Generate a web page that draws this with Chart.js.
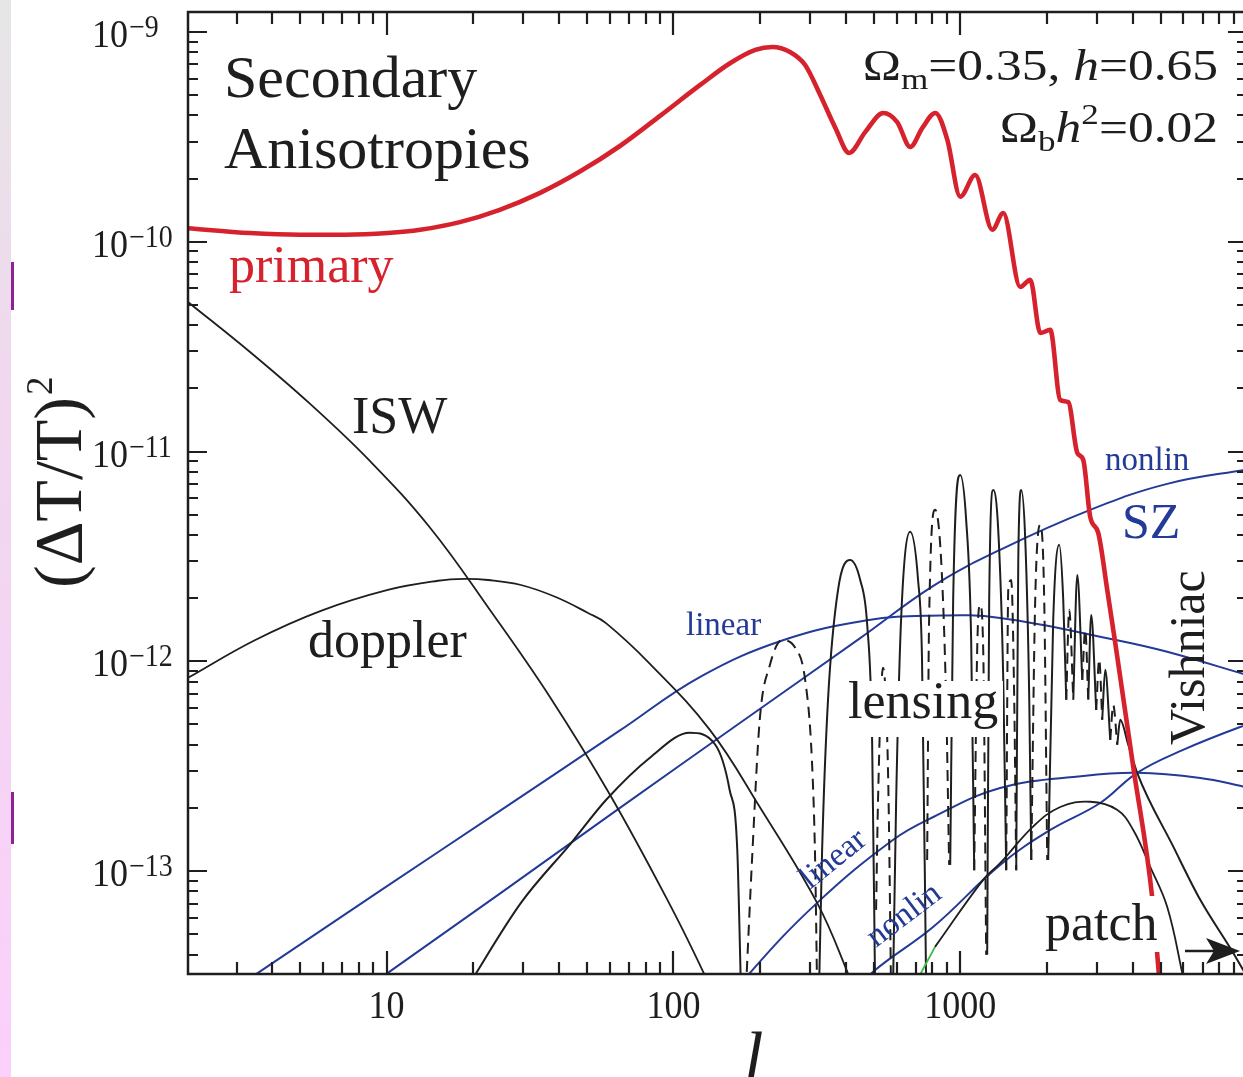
<!DOCTYPE html>
<html>
<head>
<meta charset="utf-8">
<script src="https://cdn.jsdelivr.net/npm/chart.js@4.4.1/dist/chart.umd.min.js"></script>
<style>
  html, body { margin: 0; padding: 0; background: #fff; overflow: hidden; }
  #wrap { position: relative; width: 1250px; height: 1077px; }
  canvas { position: absolute; left: 0; top: 0; }
  #strip { position: absolute; left: 0; top: 0; width: 11px; height: 1077px;
           background: linear-gradient(#e6e6e6, #f0d8ee 35%, #fbd0fb); }
  .bar { position: absolute; left: 11px; width: 3px; background: #8b2490; }
</style>
</head>
<body>
<div id="wrap">
  <canvas id="chart" width="1250" height="1077"></canvas>
  <div id="strip"></div>
  <div class="bar" style="top:262px;height:48px"></div>
  <div class="bar" style="top:792px;height:52px"></div>
</div>
<script>
// multipole l and (dT/T)^2
const primaryL = [2.03, 3.34, 4.98, 7.16, 10.1, 13.1, 18.0, 24.8, 34.3, 47.2, 65.1, 89.8, 124, 158, 193, 221, 255, 288, 325, 367, 410, 467, 539, 603, 670, 738, 819, 902, 1000, 1128, 1294, 1413, 1619, 1755, 1902, 2061, 2233, 2381, 2561, 2686, 2840, 3029, 3256, 3473, 4012, 4670, 4980];
const primaryV = [1.16e-10, 1.10e-10, 1.08e-10, 1.08e-10, 1.10e-10, 1.14e-10, 1.24e-10, 1.42e-10, 1.71e-10, 2.16e-10, 2.86e-10, 3.98e-10, 5.59e-10, 7.11e-10, 8.21e-10, 8.48e-10, 8.03e-10, 6.96e-10, 5.01e-10, 3.49e-10, 2.65e-10, 3.34e-10, 4.11e-10, 3.72e-10, 2.83e-10, 3.49e-10, 4.11e-10, 3.06e-10, 1.64e-10, 2.08e-10, 1.14e-10, 1.37e-10, 6.09e-11, 6.58e-11, 3.67e-11, 3.80e-11, 1.76e-11, 1.72e-11, 9.85e-12, 9.12e-12, 4.88e-12, 4.09e-12, 2.19e-12, 1.22e-12, 3.14e-13, 7.53e-14, 2.72e-14];

const iswL = [2.03, 3.34, 5.40, 8.74, 14.2, 22.9, 37.1, 60.1, 97.3, 127, 151];
const iswV = [5.16e-11, 2.98e-11, 1.69e-11, 9.02e-12, 4.32e-12, 1.76e-12, 6.76e-13, 2.31e-13, 6.90e-14, 3.31e-14, 1.95e-14];

const dopplerL = [2.03, 3.47, 5.90, 10.1, 15.1, 18.7, 22.6, 29.4, 38.7, 50.4, 58.2, 82.8, 134, 200, 317, 404, 430];
const dopplerV = [8.34e-13, 1.26e-12, 1.74e-12, 2.19e-12, 2.42e-12, 2.47e-12, 2.44e-12, 2.31e-12, 2.03e-12, 1.70e-12, 1.52e-12, 9.73e-13, 4.71e-13, 2.02e-13, 7.05e-14, 3.31e-14, 2.57e-14];

// lensing: positive lobes (solid) and negative lobes (dashed), null = break
const lensPosL = [18.9, 29.4, 44.0, 58.2, 82.8, 114, 140, 157, 167, 172, 172,
  322, 330, 346, 375, 413, 448, 474, 493, 505, 505,
  583, 598, 622, 669, 713, 736, 761, 761,
  923, 945, 1000, 1049, 1092, 1119, 1119,
  1242, 1262, 1304, 1357, 1413, 1447, 1447,
  1568, 1594, 1633, 1686, 1741, 1769, 1769,
  2027, 2110, 2215, 2287, 2343, 2343,
  2479, 2560, 2665, 2665,
  2796, 2863, 2980, 2980,
  3127, 3204, 3336, 3336,
  3528, 3614, 3855, 4140, 5544, 6871, 8955, 10250];
const lensPosV = [2.72e-14, 7.05e-14, 1.36e-13, 2.18e-13, 3.47e-13, 4.56e-13, 4.00e-13, 2.44e-13, 1.26e-13, 2.72e-14, null,
  2.72e-14, 1.26e-13, 6.55e-13, 2.19e-12, 3.04e-12, 2.44e-12, 1.49e-12, 4.22e-13, 2.72e-14, null,
  2.72e-14, 2.18e-13, 1.57e-12, 4.14e-12, 2.44e-12, 1.02e-12, 2.72e-14, null,
  1.07e-13, 1.96e-12, 7.73e-12, 4.72e-12, 1.26e-12, 1.01e-13, null,
  3.99e-14, 1.96e-12, 6.56e-12, 4.23e-12, 8.15e-13, 1.01e-13, null,
  1.01e-13, 3.04e-12, 6.56e-12, 3.79e-12, 6.55e-13, 1.13e-13, null,
  1.13e-13, 1.57e-12, 3.59e-12, 1.96e-12, 6.55e-13, null,
  6.55e-13, 2.58e-12, 8.15e-13, null,
  6.55e-13, 1.66e-12, 5.86e-13, null,
  5.26e-13, 9.10e-13, 4.22e-13, null,
  4.00e-13, 5.26e-13, 4.00e-13, 2.94e-13, 1.30e-13, 7.29e-14, 4.07e-14, 2.96e-14];

const lensNegL = [179, 188, 200, 217, 239, 266, 288, 304, 312, 317, 317,
  509, 517, 538, 561, 574, 574,
  767, 779, 818, 858, 893, 915, 915,
  1119, 1146, 1174, 1203, 1232, 1232,
  1447, 1471, 1506, 1543, 1568, 1568,
  1769, 1826, 1901, 1963, 2011, 2011,
  2343, 2400, 2479, 2479,
  2665, 2729, 2796, 2796,
  2980, 3053, 3127, 3127,
  3336, 3417, 3528];
const lensNegV = [2.72e-14, 1.13e-13, 5.26e-13, 9.61e-13, 1.26e-12, 1.16e-12, 8.15e-13, 3.39e-13, 1.13e-13, 2.72e-14, null,
  6.53e-14, 2.18e-13, 9.31e-13, 2.72e-13, 2.72e-14, null,
  1.13e-13, 1.57e-12, 5.27e-12, 3.04e-12, 6.55e-13, 1.07e-13, null,
  1.01e-13, 1.13e-12, 1.86e-12, 1.13e-12, 3.99e-14, null,
  1.01e-13, 2.19e-12, 2.44e-12, 6.55e-13, 1.01e-13, null,
  1.13e-13, 1.96e-12, 4.47e-12, 1.96e-12, 1.13e-13, null,
  6.55e-13, 1.76e-12, 6.55e-13, null,
  8.15e-13, 1.41e-12, 6.55e-13, null,
  5.86e-13, 1.02e-12, 5.26e-13, null,
  4.22e-13, 6.19e-13, 4.00e-13];

const szLinL = [3.34, 3.56, 9.48, 24.9, 65.1, 124, 241, 474, 785, 1378, 3524, 5268, 10250];
const szLinV = [3.10e-14, 3.27e-14, 8.04e-14, 1.94e-13, 4.68e-13, 8.43e-13, 1.26e-12, 1.57e-12, 1.65e-12, 1.61e-12, 1.26e-12, 1.11e-12, 8.52e-13];

const szNonL = [9.48, 10.1, 24.9, 65.1, 171, 448, 806, 1378, 2840, 5268, 10250];
const szNonV = [3.06e-14, 3.27e-14, 7.83e-14, 2.00e-13, 5.09e-13, 1.29e-12, 2.29e-12, 3.40e-12, 5.27e-12, 7.01e-12, 8.26e-12];

const vishLinL = [178, 185, 317, 584, 806, 1378, 2686, 4140, 6871, 9460, 10250];
const vishLinV = [2.87e-14, 3.27e-14, 7.05e-14, 1.41e-13, 1.81e-13, 2.49e-13, 2.84e-13, 2.94e-13, 2.78e-13, 2.55e-13, 2.47e-13];

const vishNonL = [466, 497, 806, 1378, 2061, 3076, 4140, 5985, 9460, 10250];
const vishNonV = [2.87e-14, 3.31e-14, 5.42e-14, 1.07e-13, 1.57e-13, 2.11e-13, 2.94e-13, 3.78e-13, 4.86e-13, 4.97e-13];

const patchL = [817, 1202, 1378, 1795, 2233, 2840, 3524, 4012, 4594, 5268, 5945, 6140];
const patchV = [4.35e-14, 9.08e-14, 1.09e-13, 1.63e-13, 2.02e-13, 2.14e-13, 1.96e-13, 1.57e-13, 1.05e-13, 6.75e-14, 3.27e-14, 2.57e-14];
const patchLowL = [679, 817];
const patchLowV = [2.72e-14, 4.35e-14];

const xTickLabels = ['10', '100', '1000'];
const yTickExps = [-9, -10, -11, -12, -13];

const SERIF = '"Liberation Serif", "DejaVu Serif", serif';
const RED = '#d6222c';
const BLUE = '#233a97';
const INK = '#1e1e1e';

function pts(ls, vs) {
  return ls.map((l, i) => ({ x: l, y: vs[i] }));
}

// smooth = plain bezier with tension, otherwise monotone cubic
function line(data, color, width, dash, smooth) {
  return { data: data, borderColor: color, borderWidth: width, borderDash: dash || [],
           pointRadius: 0, fill: false, spanGaps: false,
           cubicInterpolationMode: smooth ? 'default' : 'monotone', tension: smooth ? 0.4 : 0 };
}

function txt(ctx, s, x, y, font, color, hs) {
  ctx.save();
  ctx.font = font;
  ctx.fillStyle = color;
  ctx.textBaseline = 'alphabetic';
  ctx.translate(x, y);
  ctx.scale(hs || 1, 1);
  ctx.fillText(s, 0, 0);
  ctx.restore();
}

// runs of [text, font, dy], right aligned at xr
function rich(ctx, runs, xr, y, hs) {
  let w = 0;
  runs.forEach(r => { ctx.font = r[1]; w += ctx.measureText(r[0]).width * hs; });
  let x = xr - w;
  runs.forEach(r => {
    txt(ctx, r[0], x, y + r[2], r[1], INK, hs);
    ctx.font = r[1];
    x += ctx.measureText(r[0]).width * hs;
  });
}

function rotated(ctx, s, x, y, ang, font, color) {
  ctx.save();
  ctx.translate(x, y);
  ctx.rotate(ang);
  ctx.font = font;
  ctx.fillStyle = color;
  ctx.fillText(s, 0, 0);
  ctx.restore();
}

const frame = {
  id: 'frame',
  afterDatasetsDraw(chart) {
    const { ctx, chartArea: a, scales: { x, y } } = chart;
    ctx.save();

    // labels in the plot
    txt(ctx, 'Secondary', 224, 97, '60px ' + SERIF, INK);
    txt(ctx, 'Anisotropies', 224, 168, '60px ' + SERIF, INK);
    txt(ctx, 'primary', 229, 282, '52px ' + SERIF, RED);
    txt(ctx, 'ISW', 352, 433, '52px ' + SERIF, INK);
    txt(ctx, 'doppler', 308, 657, '52px ' + SERIF, INK);

    ctx.fillStyle = '#fff';
    ctx.fillRect(845, 681, 158, 56);
    txt(ctx, 'lensing', 848, 718, '52px ' + SERIF, INK);
    ctx.fillStyle = '#fff';
    ctx.fillRect(1040, 896, 121, 56);
    txt(ctx, 'patch', 1045, 940, '52px ' + SERIF, INK);

    rotated(ctx, 'Vishniac', 1204, 745, -Math.PI / 2, '50px ' + SERIF, INK);
    txt(ctx, 'SZ', 1122, 538, '50px ' + SERIF, BLUE);
    txt(ctx, 'nonlin', 1105, 470, '33px ' + SERIF, BLUE);
    txt(ctx, 'linear', 686, 635, '33px ' + SERIF, BLUE);
    rotated(ctx, 'linear', 810, 890, -0.68, '33px ' + SERIF, BLUE);
    rotated(ctx, 'nonlin', 876, 948, -0.65, '33px ' + SERIF, BLUE);

    rich(ctx, [['Ω', '44px ' + SERIF, 0], ['m', '30px ' + SERIF, 9], ['=0.35, ', '44px ' + SERIF, 0],
               ['h', 'italic 44px ' + SERIF, 0], ['=0.65', '44px ' + SERIF, 0]], 1218, 80, 1.17);
    rich(ctx, [['Ω', '44px ' + SERIF, 0], ['b', '30px ' + SERIF, 9], ['h', 'italic 44px ' + SERIF, 0],
               ['2', '30px ' + SERIF, -18], ['=0.02', '44px ' + SERIF, 0]], 1218, 142, 1.17);

    // patch arrow
    ctx.strokeStyle = INK;
    ctx.lineWidth = 2.5;
    ctx.beginPath(); ctx.moveTo(1185, 951); ctx.lineTo(1216, 951); ctx.stroke();
    ctx.fillStyle = INK;
    ctx.beginPath();
    ctx.moveTo(1240, 951); ctx.lineTo(1206, 938); ctx.lineTo(1214, 951); ctx.lineTo(1206, 964);
    ctx.closePath(); ctx.fill();

    // frame and inward ticks
    ctx.strokeStyle = INK;
    ctx.lineWidth = 2.5;
    ctx.strokeRect(a.left, a.top, a.right - a.left, a.bottom - a.top);
    ctx.lineWidth = 2.2;
    ctx.beginPath();
    for (let e = 0; e <= 4; e++) {
      for (let m = 1; m <= 9; m++) {
        const v = m * Math.pow(10, e);
        if (v < x.min || v > x.max) continue;
        const px = Math.round(x.getPixelForValue(v));
        const len = m === 1 ? 23 : 12;
        ctx.moveTo(px, a.bottom); ctx.lineTo(px, a.bottom - len);
        ctx.moveTo(px, a.top); ctx.lineTo(px, a.top + len);
      }
    }
    for (let e = -14; e <= -9; e++) {
      for (let m = 1; m <= 9; m++) {
        const v = m * Math.pow(10, e);
        if (v < y.min || v > y.max) continue;
        const py = Math.round(y.getPixelForValue(v));
        const len = m === 1 ? 19 : 10;
        ctx.moveTo(a.left, py); ctx.lineTo(a.left + len, py);
        ctx.moveTo(a.right, py); ctx.lineTo(a.right - len, py);
      }
    }
    ctx.stroke();

    // tick labels
    xTickLabels.forEach(t => {
      const px = x.getPixelForValue(Number(t));
      ctx.font = '40px ' + SERIF;
      const w = ctx.measureText(t).width * 0.9;
      txt(ctx, t, px - w / 2, 1018, '40px ' + SERIF, INK, 0.9);
    });
    yTickExps.forEach(e => {
      const py = y.getPixelForValue(Math.pow(10, e));
      txt(ctx, '10', 92, py + 15, '40px ' + SERIF, INK, 0.9);
      txt(ctx, '\u2212' + (-e), 129, py + 5, '31px ' + SERIF, INK, 0.9);
    });

    // axis titles
    txt(ctx, 'l', 744, 1080, 'italic 70px ' + SERIF, INK);
    ctx.save();
    ctx.translate(81, 588);
    ctx.rotate(-Math.PI / 2);
    ctx.fillStyle = INK;
    ctx.font = '68px ' + SERIF;
    ctx.fillText('(ΔT/T)', 0, 0);
    const tw = ctx.measureText('(ΔT/T)').width;
    ctx.font = '37px ' + SERIF;
    ctx.fillText('2', tw + 2, -29);
    ctx.restore();

    ctx.restore();
  }
};

new Chart(document.getElementById('chart'), {
  type: 'line',
  data: {
    datasets: [
      line(pts(primaryL, primaryV), RED, 4.6),
      line(pts(patchL, patchV), INK, 1.8, null, true),
      line(pts(patchLowL, patchLowV), '#3dbb45', 1.8, null, true),
      line(pts(lensPosL, lensPosV), INK, 2),
      line(pts(lensNegL, lensNegV), INK, 2, [11, 7]),
      line(pts(iswL, iswV), INK, 1.8, null, true),
      line(pts(dopplerL, dopplerV), INK, 1.8, null, true),
      line(pts(szLinL, szLinV), BLUE, 2, null, true),
      line(pts(szNonL, szNonV), BLUE, 2, null, true),
      line(pts(vishLinL, vishLinV), BLUE, 2, null, true),
      line(pts(vishNonL, vishNonV), BLUE, 2, null, true)
    ]
  },
  options: {
    responsive: false,
    animation: false,
    layout: { padding: { left: 188, right: 3, top: 12, bottom: 103 } },
    plugins: { legend: { display: false }, tooltip: { enabled: false } },
    scales: {
      x: { type: 'logarithmic', min: 2.03, max: 10000, bounds: 'data', display: false },
      y: { type: 'logarithmic', min: 3.23e-14, max: 1.245e-9, bounds: 'data', display: false }
    }
  },
  plugins: [frame]
});
</script>
</body>
</html>
